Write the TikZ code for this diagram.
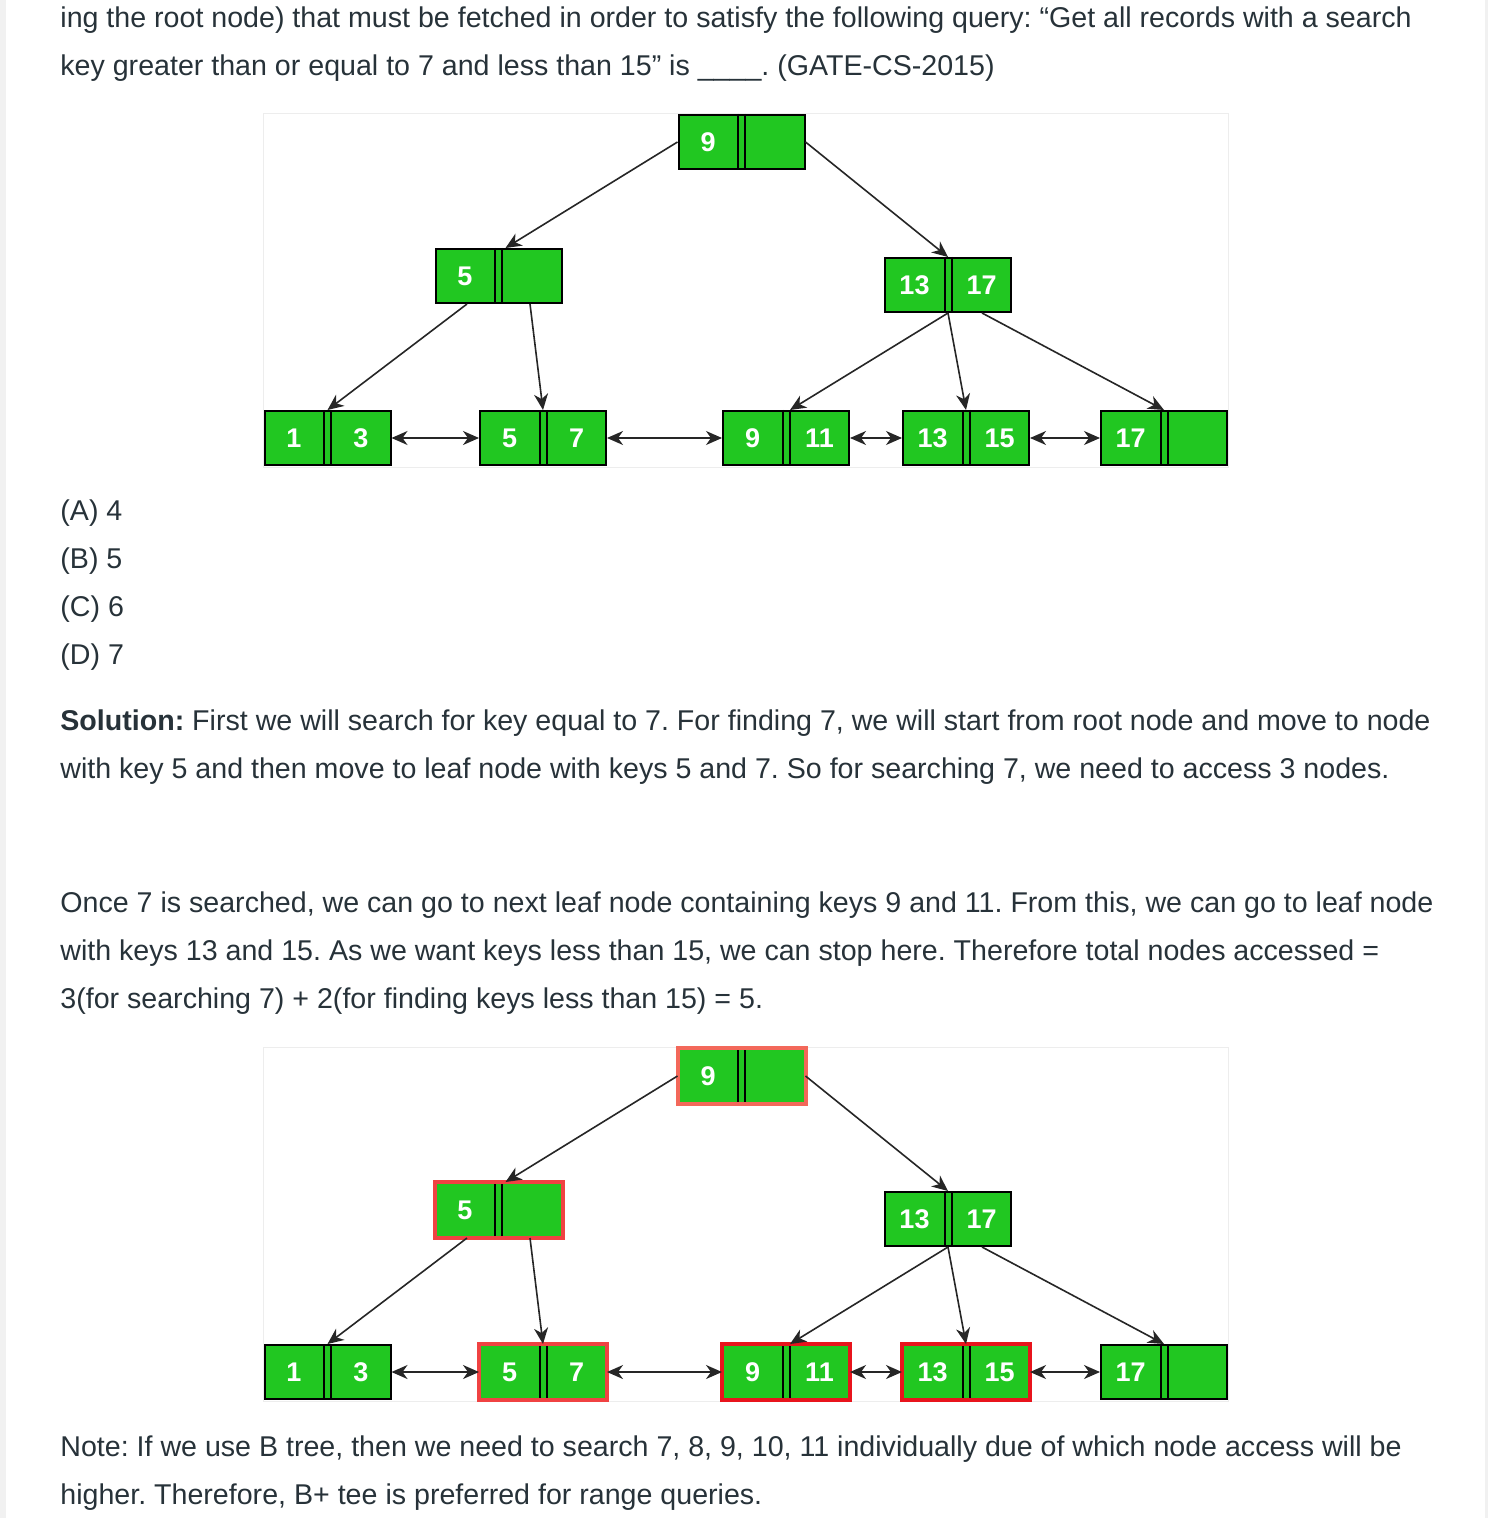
\documentclass[tikz,border=0pt]{standalone}
\usepackage{fontspec}
\setmainfont{Liberation Sans}
\usetikzlibrary{arrows.meta}

\definecolor{keygreen}{RGB}{33,199,33}
\definecolor{bodytext}{RGB}{39,50,57}
\definecolor{softred}{RGB}{243,104,90}
\definecolor{midred}{RGB}{240,66,66}
\definecolor{hardred}{RGB}{232,20,28}
\definecolor{sidegray}{RGB}{241,241,241}

\tikzset{
  keybox/.style={draw=black, line width=1pt, fill=keygreen, minimum width=63pt, minimum height=27pt, inner sep=0pt},
  keytext/.style={text=white, inner sep=0pt, font=\bfseries\fontsize{13.5}{14}\selectfont},
  ptr/.style={draw=black!85, line width=0.8pt, -{Stealth[length=8pt,width=7pt,inset=2.5pt]}},
  sibling/.style={draw=black!85, line width=0.8pt, {Stealth[length=8pt,width=7pt,inset=2.5pt]}-{Stealth[length=8pt,width=7pt,inset=2.5pt]}},
  para/.style={anchor=base west, inner sep=0pt, text=bodytext, font=\fontsize{14.3}{16}\selectfont},
  visited/.style={line width=2pt},
  frame/.style={draw=black!7, fill=white},
}

% one B+ tree node: name, x, y, left key, right key
\newcommand{\keynode}[5]{%
  \node[keybox] (#1) at (#2,#3) {};
  \draw[line width=1pt] ([xshift=-1.75pt]#1.north) -- ([xshift=-1.75pt]#1.south)
                        ([xshift=1.75pt]#1.north) -- ([xshift=1.75pt]#1.south);
  \node[keytext] at ([xshift=-16.75pt]#1.center) {#4};
  \node[keytext] at ([xshift=16.75pt]#1.center) {#5};
}

% all nodes of the tree, names start with #1
\newcommand{\bpnodes}[1]{%
  \draw[frame] (263,113) rectangle (1228,467);
  \keynode{#1r}{741.5}{142}{9}{}
  \keynode{#1a}{498.5}{276}{5}{}
  \keynode{#1b}{948}{285}{13}{17}
  \keynode{#1l1}{327.5}{438}{1}{3}
  \keynode{#1l5}{543}{438}{5}{7}
  \keynode{#1l9}{786}{438}{9}{11}
  \keynode{#1l13}{966}{438}{13}{15}
  \keynode{#1l17}{1164}{438}{17}{}
}

% child pointers and leaf links
\newcommand{\bplinks}[1]{%
  \draw[ptr] (#1r.west) -- ([xshift=3.5pt]#1a.north);
  \draw[ptr] (#1r.east) -- (#1b.north);
  \draw[ptr] ([xshift=-15.75pt]#1a.south) -- (#1l1.north);
  \draw[ptr] ([xshift=15.75pt]#1a.south) -- (#1l5.north);
  \draw[ptr] (#1b.south) -- ([xshift=2pt]#1l9.north);
  \draw[ptr] (#1b.south) -- (#1l13.north);
  \draw[ptr] ([xshift=17pt]#1b.south) -- (#1l17.north);
  \foreach \p/\q in {l1/l5, l5/l9, l9/l13, l13/l17}
    \draw[sibling] (#1\p.east) -- (#1\q.west);
}

\frenchspacing
\begin{document}
\begin{tikzpicture}[x=0.5pt,y=-0.5pt]
  \useasboundingbox (0,0) rectangle (1488,1518);
  \fill[white] (0,0) rectangle (1488,1518);
  \fill[sidegray] (0,0) rectangle (6,1518);
  \fill[sidegray] (1485,0) rectangle (1488,1518);

  % question
  \node[para] (q1) at (60,28) {ing the root node) that must be fetched in order to satisfy the following query: “Get all records with a search};
  \node[para] (q2) at (60,76) {key greater than or equal to 7 and less than 15” is \_\_\_\_. (GATE-CS-2015)};

  % first tree
  \bpnodes{t}
  \bplinks{t}

  % options
  \node[para] (oa) at (60,520) {(A) 4};
  \node[para] (ob) at (60,568) {(B) 5};
  \node[para] (oc) at (60,616) {(C) 6};
  \node[para] (od) at (60,664) {(D) 7};

  % solution
  \node[para] (s1) at (60,730) {\textbf{Solution:} First we will search for key equal to 7. For finding 7, we will start from root node and move to node};
  \node[para] (s2) at (60,778) {with key 5 and then move to leaf node with keys 5 and 7. So for searching 7, we need to access 3 nodes.};
  \node[para] (s3) at (60,912) {Once 7 is searched, we can go to next leaf node containing keys 9 and 11. From this, we can go to leaf node};
  \node[para] (s4) at (60,960) {with keys 13 and 15. As we want keys less than 15, we can stop here. Therefore total nodes accessed =};
  \node[para] (s5) at (60,1008) {3(for searching 7) + 2(for finding keys less than 15) = 5.};

  % second tree, visited nodes in red
  \begin{scope}[shift={(0,934)}]
    \bpnodes{u}
    \draw[visited, draw=softred] (ur.south west) rectangle (ur.north east);
    \draw[visited, draw=midred] (ua.south west) rectangle (ua.north east);
    \draw[visited, draw=midred] (ul5.south west) rectangle (ul5.north east);
    \draw[visited, draw=hardred] (ul9.south west) rectangle (ul9.north east);
    \draw[visited, draw=hardred] (ul13.south west) rectangle (ul13.north east);
    \bplinks{u}
  \end{scope}

  % note
  \node[para] (n1) at (60,1456) {Note: If we use B tree, then we need to search 7, 8, 9, 10, 11 individually due of which node access will be};
  \node[para] (n2) at (60,1504) {higher. Therefore, B+ tee is preferred for range queries.};
\end{tikzpicture}
\end{document}
